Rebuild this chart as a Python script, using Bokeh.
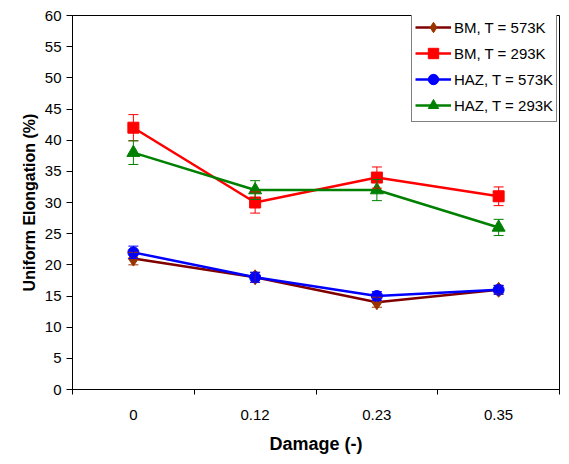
from bokeh.plotting import figure
from bokeh.models import (ColumnDataSource, Whisker, TeeHead, FixedTicker,
                          Legend, LegendItem, Range1d)
from bokeh.embed import file_html
from bokeh.resources import INLINE

# ---- data ----
categories = ["0", "0.12", "0.23", "0.35"]
bm_573 = [21, 18, 14, 16]
bm_573_err = [1.0, 0.8, 0.8, 0.7]
bm_293 = [42, 30, 34, 31]
bm_293_err = [2.1, 1.7, 1.7, 1.5]
haz_573 = [22, 18, 15, 16]
haz_573_err = [1.0, 0.8, 0.7, 0.7]
haz_293 = [38, 32, 32, 26]
haz_293_err = [1.9, 1.5, 1.7, 1.3]
y_ticks = list(range(0, 61, 5))

series = [
    ("BM, T = 573K", bm_573, bm_573_err, "#800000", "#993300", "diamond", 15),
    ("BM, T = 293K", bm_293, bm_293_err, "#FF0000", "#FF0000", "square", 11),
    ("HAZ, T = 573K", haz_573, haz_573_err, "#0000FF", "#0000FF", "circle", 11),
    ("HAZ, T = 293K", haz_293, haz_293_err, "#008000", "#008000", "triangle", 13),
]

x_pos = [i + 0.5 for i in range(len(categories))]
boundaries = list(range(len(categories) + 1))

FONT = "Liberation Sans"

p = figure(width=561, height=456, x_range=Range1d(0, len(categories)),
           y_range=Range1d(0, 60), output_backend="svg", toolbar_location=None,
           min_border_left=72, min_border_right=2, min_border_top=15,
           min_border_bottom=64)
p.xgrid.visible = False
p.ygrid.visible = False
p.outline_line_color = "black"
p.outline_line_width = 1
p.background_fill_color = "white"
p.border_fill_color = "white"

# x axis: labels at category centers, ticks at boundaries
p.xaxis.ticker = FixedTicker(ticks=x_pos, minor_ticks=boundaries)
p.xaxis.major_label_overrides = {x: c for x, c in zip(x_pos, categories)}
p.xaxis.major_tick_out = 0
p.xaxis.major_tick_in = 0
p.xaxis.minor_tick_out = 5
p.xaxis.minor_tick_in = 0
p.xaxis.major_label_standoff = 15
p.xaxis.axis_label = "Damage (-)"
p.xaxis.axis_label_standoff = 11

p.yaxis.ticker = FixedTicker(ticks=y_ticks)
p.yaxis.major_tick_out = 6
p.yaxis.major_tick_in = 0
p.yaxis.minor_tick_out = 0
p.yaxis.minor_tick_in = 0
p.yaxis.major_label_standoff = 5
p.yaxis.axis_label = "Uniform Elongation (%)"
p.yaxis.axis_label_standoff = 4

for ax in (p.xaxis, p.yaxis):
    ax.axis_line_color = "black"
    ax.major_tick_line_color = "black"
    ax.minor_tick_line_color = "black"
    ax.major_label_text_font = FONT
    ax.major_label_text_font_size = "15px"
    ax.major_label_text_color = "black"
    ax.axis_label_text_font = FONT
    ax.axis_label_text_font_style = "bold"
    ax.axis_label_text_color = "black"
p.xaxis.axis_label_text_font_size = "18px"
p.yaxis.axis_label_text_font_size = "16px"

items = []
for label, vals, errs, lcol, mcol, marker, size in series:
    src = ColumnDataSource(dict(x=x_pos, y=vals,
                                upper=[v + e for v, e in zip(vals, errs)],
                                lower=[v - e for v, e in zip(vals, errs)]))
    w = Whisker(base="x", upper="upper", lower="lower", source=src,
                line_color=mcol, line_width=1, level="glyph",
                upper_head=TeeHead(size=10, line_color=mcol, line_width=1),
                lower_head=TeeHead(size=10, line_color=mcol, line_width=1))
    p.add_layout(w)
    r1 = p.line("x", "y", source=src, line_color=lcol, line_width=2.5)
    r2 = p.scatter("x", "y", source=src, marker=marker, size=size,
                   fill_color=mcol, line_color=mcol)
    items.append(LegendItem(label=label, renderers=[r1, r2]))

legend = Legend(items=items, location=(339, 267))
legend.border_line_color = "black"
legend.border_line_width = 1
legend.background_fill_color = "white"
legend.background_fill_alpha = 1
legend.label_text_font = FONT
legend.label_text_font_size = "15px"
legend.label_text_color = "black"
legend.glyph_width = 36
legend.glyph_height = 26
legend.label_height = 20
legend.spacing = -1
legend.padding = 3
legend.label_standoff = 3
legend.margin = 0
p.add_layout(legend)

open("out.html", "w").write(file_html(p, INLINE))
